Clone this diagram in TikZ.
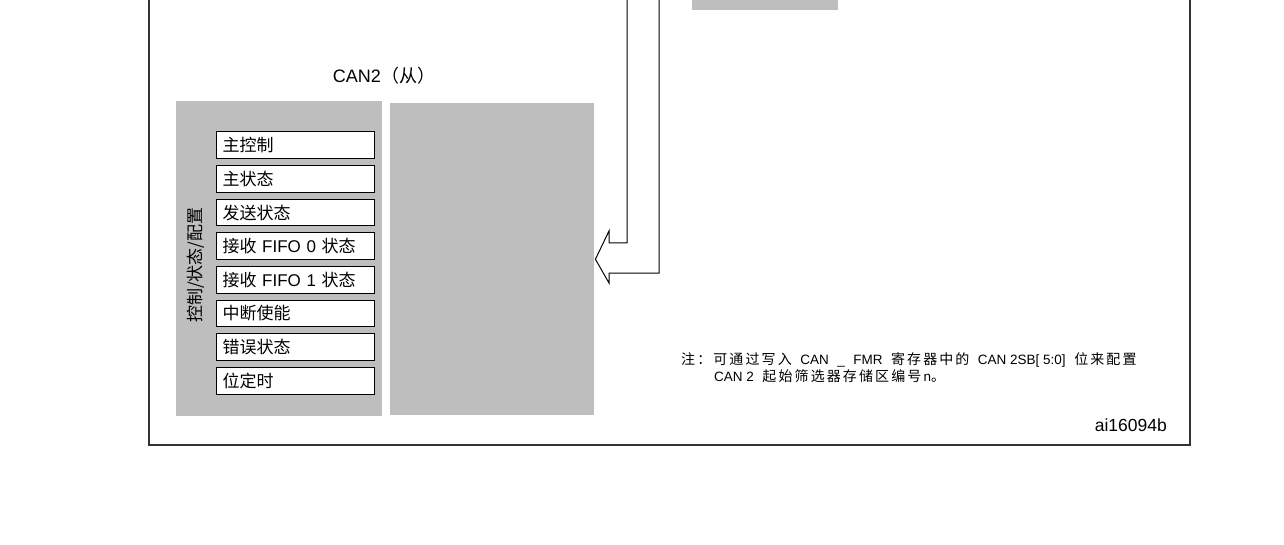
\documentclass[tikz,border=0pt]{standalone}
\usepackage{fontspec}
\setmainfont{Liberation Sans}
\newfontfamily\cjk{Noto Sans CJK SC}
\newfontfamily\cjknote[LetterSpace=15]{Noto Sans CJK SC}
\usetikzlibrary{positioning}
\definecolor{blockgrey}{gray}{0.745}
\definecolor{framegrey}{gray}{0.2}
\newcommand{\notegap}{\hspace{8.5pt}}

\begin{document}
\begin{tikzpicture}[x=1pt,y=-1pt,
  greybox/.style={fill=blockgrey, draw=none, inner sep=0pt, anchor=north west},
  regbox/.style={draw=black, fill=white, line width=1pt, minimum height=26.5pt,
    text width=146pt, inner xsep=6pt, inner ysep=0pt, align=left, anchor=north west,
    font=\cjk\fontsize{17}{17}\selectfont},
  notetext/.style={anchor=west, inner sep=0pt, font=\fontsize{13.5}{14}\selectfont}]

\useasboundingbox (0,0) rectangle (1284,545);

% outer frame (open at the top)
\draw[line width=1.2pt, framegrey] (149,0) -- (149,445) -- (1190,445) -- (1190,0);
\path[fill=blockgrey] (692,0) rectangle (838,10);

\node (title) at (384,76) {\fontsize{18}{18}\selectfont CAN2{\cjk （从）}};

% CAN2 blocks
\node[greybox, minimum width=206pt, minimum height=315pt] (ctrl) at (176,101) {};
\node[greybox, minimum width=204pt, minimum height=312pt] (filt) at (390,103) {};

\node[rotate=90, font=\cjk\fontsize{17}{17}\selectfont] (side) at (196,265) {控制/状态/配置};

\foreach \txt [count=\i] in {主控制, 主状态, 发送状态, 接收 {\rmfamily FIFO 0} 状态,
    接收 {\rmfamily FIFO 1} 状态, 中断使能, 错误状态, 位定时}
  \node[regbox] (reg\i) at (216,{131.5+33.65*(\i-1)}) {\txt};

% hollow arrow into the filter block
\coordinate (tip) at ([xshift=1pt]filt.east);
\draw[line width=1pt, black] (627,0) -- (627,243) -- (609,243) -- (609,231) -- (tip)
  -- (609,283) -- (609,273) -- (659,273) -- (659,0);

% note
\node[notetext] (note1) at (681,360)
  {{\cjknote\fontsize{14}{14}\selectfont 注：可通过写入}\notegap CAN\notegap\_\notegap FMR\notegap{\cjknote\fontsize{14}{14}\selectfont 寄存器中的}\notegap CAN 2SB[ 5:0]\notegap{\cjknote\fontsize{14}{14}\selectfont 位来配置}};
\node[notetext] (note2) at (714,376)
  {CAN 2\notegap{\cjknote\fontsize{14}{14}\selectfont 起始筛选器存储区编号}\,n{\cjk\fontsize{14}{14}\selectfont 。}};

\node[anchor=east, font=\fontsize{17.5}{17.5}\selectfont, inner sep=0pt] (figid) at (1167,425) {ai16094b};
\end{tikzpicture}
\end{document}
